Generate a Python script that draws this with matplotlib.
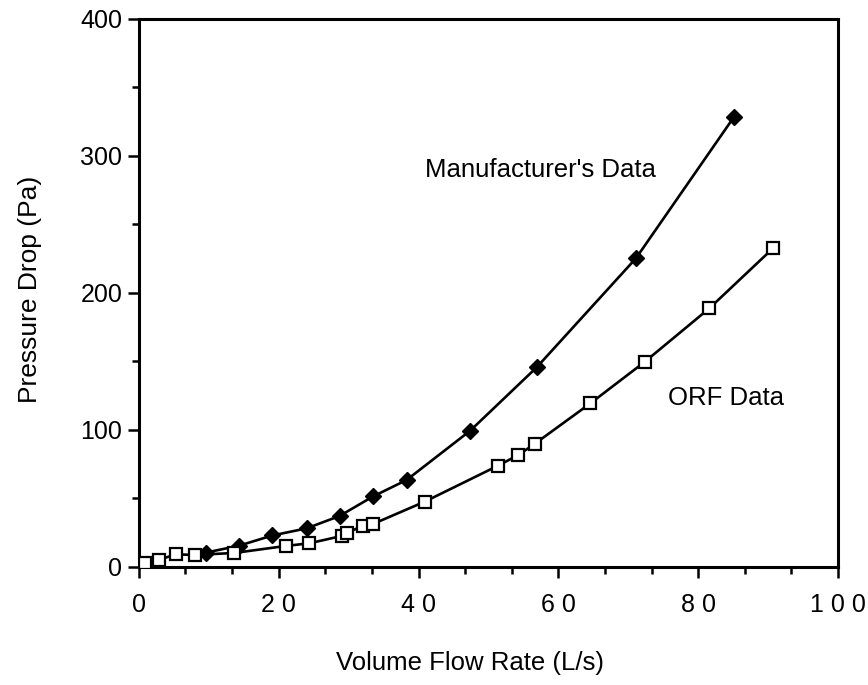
import matplotlib
matplotlib.use("Agg")
import matplotlib.pyplot as plt
from matplotlib.ticker import MultipleLocator

plt.rcParams['font.family'] = ['Liberation Sans', 'DejaVu Sans']

# Manufacturer's published pressure-drop curve
mfr_flow = [9.6, 14.3, 19.1, 24.0, 28.7, 33.5, 38.3, 47.4, 56.9, 71.1, 85.1]
mfr_dp = [10.5, 15.5, 23.0, 28.2, 37.2, 51.5, 63.5, 99.5, 145.7, 225.3, 328.3]

# Measured ORF data
orf_flow = [0.9, 2.9, 5.3, 8.0, 13.6, 21.1, 24.4, 29.0, 29.8, 32.0, 33.5,
            40.9, 51.4, 54.3, 56.6, 64.6, 72.4, 81.6, 90.7]
orf_dp = [2.7, 5.3, 9.2, 8.8, 10.2, 15.4, 17.3, 22.6, 25.0, 29.9, 31.4,
          47.7, 74.0, 81.8, 89.8, 119.5, 149.9, 188.8, 232.6]

x_ticks = [0, 20, 40, 60, 80, 100]
y_ticks = [0, 100, 200, 300, 400]

fig = plt.figure(figsize=(8.68, 6.85), dpi=100)
ax = fig.add_axes([0.160, 0.1723, 0.8054, 0.8000])

ax.plot(mfr_flow, mfr_dp, color='black', lw=1.9, marker='D', ms=8.5,
        mfc='black', mec='black', zorder=3)
ax.plot(orf_flow, orf_dp, color='black', lw=1.9, marker='s', ms=9,
        mfc='white', mec='black', mew=1.6, zorder=3)

ax.set_xlim(0, 100)
ax.set_ylim(0, 400)
ax.set_xticks(x_ticks)
ax.set_xticklabels([' '.join(str(v)) for v in x_ticks])
ax.set_yticks(y_ticks)
ax.xaxis.set_minor_locator(MultipleLocator(20 / 3))
ax.yaxis.set_minor_locator(MultipleLocator(50))

ax.tick_params(axis='both', which='major', direction='out', length=8,
               width=1.8, labelsize=18)
ax.tick_params(axis='both', which='minor', direction='out', length=5, width=1.8)
ax.tick_params(axis='x', which='major', pad=11)
ax.tick_params(axis='y', which='major', pad=4)

for sp in ax.spines.values():
    sp.set_linewidth(2.2)

ax.text(40.9, 289.8, "Manufacturer's Data", fontsize=18.5, va='center', ha='left')
ax.text(75.7, 123.4, "ORF Data", fontsize=18.5, va='center', ha='left')

fig.text(0.542, 0.032, 'Volume Flow Rate (L/s)', fontsize=18.5, ha='center', va='center')
fig.text(0.035, 0.577, 'Pressure Drop (Pa)', fontsize=19, ha='center', va='center',
         rotation=90)

fig.savefig('out.png', dpi=100)
